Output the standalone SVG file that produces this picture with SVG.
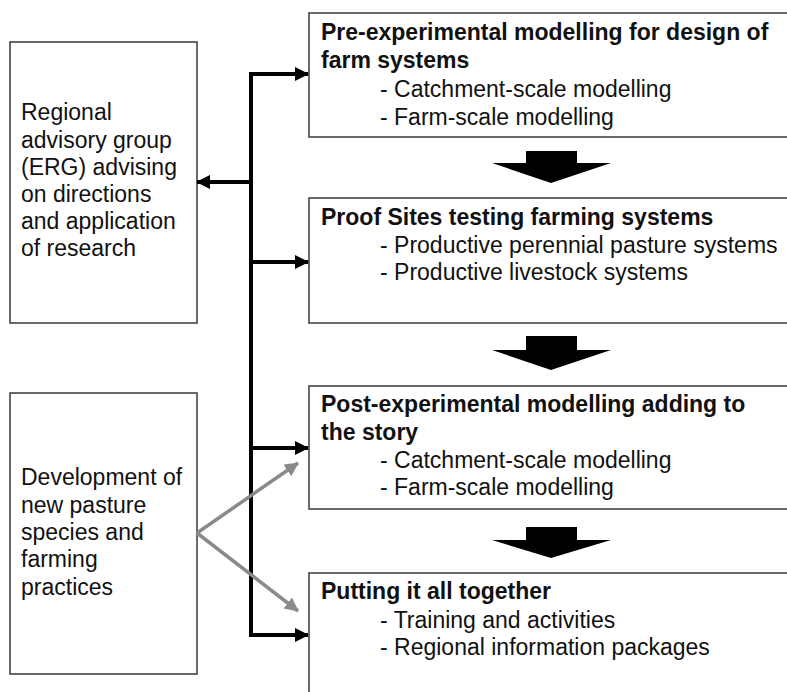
<svg xmlns="http://www.w3.org/2000/svg" width="787" height="692" viewBox="0 0 787 692">
<style>
.box{fill:#fff;stroke:#3a3a3a;stroke-width:1.5}
.t{font-family:"Liberation Sans",Arial,sans-serif;font-size:23px;fill:#111}
.b{font-weight:bold}
.blk{stroke:#000;stroke-width:4;fill:none}
.gry{stroke:#8a8a8a;stroke-width:3.5;fill:none}
.big{fill:#000}
</style>
<defs>
<marker id="ah" markerUnits="userSpaceOnUse" markerWidth="14" markerHeight="14" refX="13" refY="7" orient="auto"><path d="M0,0 L14,7 L0,14 Z" fill="#000"/></marker>
<marker id="ahg" markerUnits="userSpaceOnUse" markerWidth="14" markerHeight="14" refX="13" refY="7" orient="auto"><path d="M0,0 L14,7 L0,14 Z" fill="#8a8a8a"/></marker>
</defs>
<rect width="787" height="692" fill="#fff"/>
<g id="erg">
<rect class="box" x="10" y="42" width="187" height="281"/>
<text class="t" x="21" y="120">Regional</text>
<text class="t" x="21" y="148">advisory group</text>
<text class="t" x="21" y="175">(ERG) advising</text>
<text class="t" x="21" y="202">on directions</text>
<text class="t" x="21" y="229">and application</text>
<text class="t" x="21" y="256">of research</text>
</g>
<g id="dev">
<rect class="box" x="10" y="393" width="187" height="281"/>
<text class="t" x="21" y="485">Development of</text>
<text class="t" x="21" y="513">new pasture</text>
<text class="t" x="21" y="540">species and</text>
<text class="t" x="21" y="567">farming</text>
<text class="t" x="21" y="595">practices</text>
</g>
<g id="pre">
<rect class="box" x="309" y="13" width="490" height="124"/>
<text class="t b" x="321" y="40">Pre-experimental modelling for design of</text>
<text class="t b" x="321" y="68">farm systems</text>
<text class="t" x="380" y="97">- Catchment-scale modelling</text>
<text class="t" x="380" y="125">- Farm-scale modelling</text>
</g>
<g id="proof">
<rect class="box" x="309" y="198" width="490" height="125"/>
<text class="t b" x="321" y="225">Proof Sites testing farming systems</text>
<text class="t" x="380" y="253">- Productive perennial pasture systems</text>
<text class="t" x="380" y="280">- Productive livestock systems</text>
</g>
<g id="post">
<rect class="box" x="309" y="386" width="490" height="123"/>
<text class="t b" x="321" y="412">Post-experimental modelling adding to</text>
<text class="t b" x="321" y="440">the story</text>
<text class="t" x="380" y="468">- Catchment-scale modelling</text>
<text class="t" x="380" y="495">- Farm-scale modelling</text>
</g>
<g id="together">
<rect class="box" x="309" y="573" width="490" height="130"/>
<text class="t b" x="321" y="599">Putting it all together</text>
<text class="t" x="380" y="628">- Training and activities</text>
<text class="t" x="380" y="655">- Regional information packages</text>
</g>
<g id="connectors">
<path class="blk" d="M251,74 V635"/>
<path class="blk" d="M249,74 H308" marker-end="url(#ah)"/>
<path class="blk" d="M253,262 H308" marker-end="url(#ah)"/>
<path class="blk" d="M253,448 H308" marker-end="url(#ah)"/>
<path class="blk" d="M249,635 H308" marker-end="url(#ah)"/>
<path class="blk" d="M253,182 H197" marker-end="url(#ah)"/>
<path class="gry" d="M197,533 L298,463" marker-end="url(#ahg)"/>
<path class="gry" d="M197,533 L298,611" marker-end="url(#ahg)"/>
<path class="big" d="M526,151 H577 V163 H611 L551,183 L492,163 H526 Z"/>
<path class="big" d="M526,336 H577 V350 H611 L551,370 L492,350 H526 Z"/>
<path class="big" d="M526,527 H577 V540 H611 L551,558 L492,540 H526 Z"/>
</g>
</svg>
